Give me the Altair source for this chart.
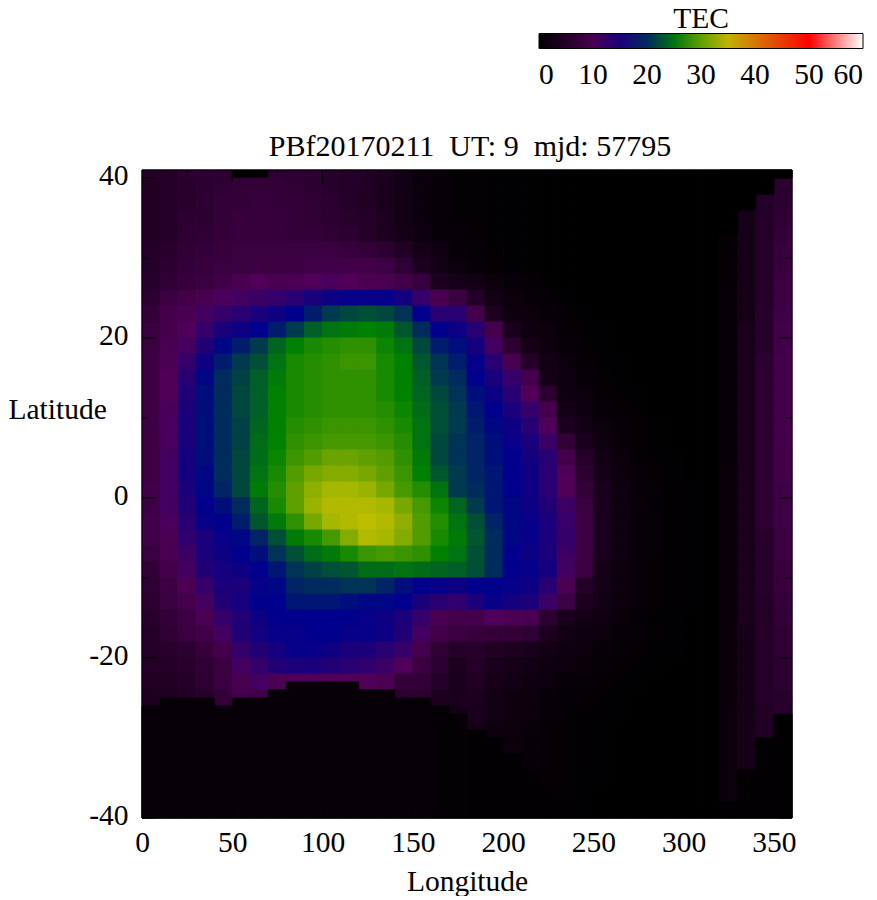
import altair as alt
import pandas as pd

FONT = "Liberation Serif"
FS = 29.5

lons = list(range(0, 360, 10))
lat_bands = [40, 38, 36, 34, 32, 30, 28, 26, 24, 22, 20, 18, 16, 14, 12, 10, 8, 6, 4, 2, 0,
             -2, -4, -6, -8, -10, -12, -14, -16, -18, -20, -22, -24, -26, -28, -30, -32, -34, -36, -38, -40]

tec_rows = [
[5,5,6,6,6,0,0,6,6,6,5.5,5,5,4,2.5,1.5,1,.5,.5,.3,.2,.2,.1,.1,0,0,0,0,0,0,0,0,0,0,0,0],
[4.5,5,5.5,6,6.5,7,7,7,6.5,6,5.5,5,4.5,3.5,2.5,1.5,1,.5,.5,.3,.2,.2,.1,.1,0,0,0,0,0,0,0,0,0,0,0,6],
[4.5,5,5.5,6,7,7,7.5,7,7,6.5,6,5,4.5,3.5,2.5,1.5,1,.7,.5,.3,.2,.2,.1,.1,0,0,0,0,0,0,0,0,0,0,5,6],
[4.5,5,6,6,7,7.5,7.5,7.5,7,6.5,6,5.5,5,4,2.5,1.5,1,.7,.5,.3,.2,.2,.1,.1,0,0,0,0,0,0,0,0,0,3,5,6.5],
[4.5,5,6,6.5,7,7.5,7.5,7.5,7,7,6.5,6,5,4,3,2,1,1,.5,.3,.2,.2,.1,.1,0,0,0,0,0,0,0,0,.5,3,5,7],
[5,5.5,6.5,7,7.5,8,8,8,8,8,8,7.5,7,6,4.5,3,2,1,.7,.4,.3,.2,.1,.1,0,0,0,0,0,0,0,0,.7,3,5,7.5],
[5,6,7,7.5,8,8,8,8.5,8.5,9,9,9,9,8.5,6.5,4,2.5,1.5,1,.5,.3,.2,.1,.1,0,0,0,0,0,0,0,0,.8,3,5,7.5],
[5.5,6.5,7.5,8,9,10,11,10,10.5,11,11.5,11,10.5,10,9,7.5,4,3,2.5,1.5,1,.5,.2,.1,0,0,0,0,0,0,0,0,.8,3,5,8],
[6,8,9,10,11.5,12,12.5,13,14,15,16,16.5,16.5,16.5,15.5,13,10,8,5,2.5,1.5,1,.5,.2,.1,0,0,0,0,0,0,0,1,3,5,8],
[7,9.5,10,12,13,14,15,16,17,19,21,22,22.5,22,20.5,17,14,14,9.5,4,2,1.5,1,.5,.2,.1,0,0,0,0,0,0,1,3,5.5,8.5],
[8,9.5,11,13,15,16,17,19,21,23.5,25,25.5,26,25.5,23,20,17,16,14,9.5,3.5,2,1.5,.8,.3,.2,.1,0,0,0,0,0,1,3.5,5.5,9],
[8,10,12,14.5,17.5,19,21,24,26,27,27.5,28,28,26.5,25,22,19,18,15.5,12,6,3,2,1,.5,.2,.1,0,0,0,0,0,1,3.5,5.5,9],
[8.5,10.5,13,16,19,21,22.5,25,27,27.5,28,28.5,28.5,27,26,23,20.5,19,16.5,14,10,5,2.5,1.5,.8,.3,.2,.1,0,0,0,0,1,3.5,6,9.5],
[8.5,11,14,17.5,20,21.5,23.5,25.5,27,27.5,28,28,28,27,26,23.5,21,20,17,15,13,9.5,3,2,1,.5,.2,.1,0,0,0,0,1,3.5,6,9.5],
[8.5,11,14.5,18,20,22,23.5,26,27,27.5,28,28,28,27,26,24,22,20.5,18,16,14,11,6,2,1.5,.8,.3,.2,.1,0,0,0,1,3.5,6,9.5],
[8.5,11.5,15,18,20,22,23.5,26,27,27.5,28,28,28,27.5,26.5,24.5,22.5,21,18.5,17,15,13,9.5,3,2,1,.5,.3,.1,0,0,0,1,3.5,6,9.5],
[8.5,11.5,15,18,20,21.5,24,26,27.5,28,28.5,28.5,28.5,28,27,25,22.5,21,19,17.5,16,14,11,4,2.5,1.5,1,.5,.2,.1,0,.1,1,3.5,6,9.5],
[8.5,11.5,15,18,20,21.5,24.5,26,28,28.5,29,29,29,28.5,27.5,25,22,20.5,19.5,18,16.5,15,12.5,7,3.5,2,1,.5,.3,.1,.1,.1,1,3.5,6,9.5],
[8.5,12,15.5,18,20,22,24.5,26.5,28.5,29.5,30.5,30.5,30,29.5,28,25.5,22,20.5,19.5,18,17,15.5,14,9.5,5,2.5,1.5,.7,.4,.2,.1,.1,1,3.5,6,9],
[8.5,12,15.5,17.5,20,22,25,27,29.5,31,31.5,31.5,31,30,28.5,26,23,21,19.5,18.5,17,16,14,11,6,3,1.5,1,.5,.3,.1,.1,1.2,3.5,6,9],
[9,12,15,17.5,19.5,22,25.5,27.5,30,32,33,33,32.5,31,29,27.5,25,21,20,18.5,17,16,14,11,7,3.5,2,1,.7,.3,.2,.1,1.2,3.5,6,8.5],
[8.5,12,14.5,17,18,20,24,27,30,32.5,33.5,33.5,33.5,33,31,29,26.5,24,21,18.5,17.5,16,14.5,12.5,8,3.5,2,1.2,.7,.3,.2,.1,1.2,3.5,6,8.5],
[9,11.5,14,16.5,17,19,23,25.5,28,31,33,33.5,34,33.5,32,29.5,27.5,25,22.5,19.5,17.5,16.5,15,13,8.5,3.5,2,1,.7,.3,.2,.1,1.2,3.5,6,8.5],
[9,10.5,13.5,15,16.5,17.5,19.5,22.5,25.5,27,29,31.5,33.5,33,31.5,29.5,27,25.5,23,20,17.5,16.5,15,13,8.5,3.5,2,1,.7,.3,.2,.1,1.2,3.5,5.5,8],
[8,10,12.5,15,16,17,18,20.5,22.5,24.5,25.5,27,28.5,29,28.5,28,26,25,22.5,20,17,16,15,12.5,8.5,3.5,2,1,.7,.3,.2,.1,1.2,3.5,5.5,8],
[7,9.5,12,14.5,15.5,16,17,18.5,20.5,21.5,22.5,23,24.5,24.5,25,24.5,24,23.5,22.5,20,17,16.5,15.5,12,8,3,1.5,1,.5,.3,.2,.1,1.2,3.5,5.5,7.5],
[6.5,8.5,10.5,13,15,15,16.5,17.5,19.5,20,20,20.5,20.5,19.5,18,17,16.5,16,17,17,16.5,16,14,10.5,5,3,1.5,1,.5,.3,.2,.1,1.2,3.5,5.5,7.5],
[6,8,9.5,12,14.5,15.5,17,17,18.5,18.5,18.5,18,17.5,17.5,17,15,14,13.5,15,16.5,15.5,15,12.5,8.5,4,2.5,1.5,1,.5,.3,.2,.1,1.2,3.5,5,7],
[5.5,7,8.5,10.5,13,14.5,16,17,17,17,17,17,16.5,16,15,13,10,9.5,9.5,11,10.5,10,6,3.5,2.5,2,1.2,.7,.4,.2,.1,.1,1.2,3.5,5,7],
[5,6.5,8,9,12,14.5,15.5,16.5,16.5,17,17,16.5,16.5,16,14.5,12,9,8,7.5,7,7,6.5,4,2.5,2,1.5,1,.7,.5,.2,.1,.1,1.2,3,5,6.5],
[5,5.5,6,7.5,9.5,13,14.5,15.5,16.5,16.5,16,15,15,14,13,9.5,6.5,5,5.5,4.5,4,3.5,2.5,2,1.5,1,.8,.5,.3,.2,.1,.1,1.2,3,5,6.5],
[5,5,5.5,6.5,8,12,13,14.5,15,15,14.5,14,13.5,12.5,11,8,6,4,5,3.5,3,2.5,2,1.5,1.2,.8,.5,.4,.2,.1,.1,.1,1.2,3,5,6],
[4.5,4.5,5,6,8,10,12,10.5,11,11,11,11,11,10.5,7,7,5,3.5,4.5,3,2.5,2,1.5,1,.8,.5,.4,.2,.1,.1,.1,.1,1.2,3,5,6],
[4,4,4.5,5.5,7,9.5,9,1,1,1,1,1,1,1,6,6,4,3.5,4,2.5,2,1.5,1,.7,.5,.4,.2,.1,.1,.1,.1,.1,1.2,3,5,5.5],
[1,1,1,1,1,1,1,1,1,1,1,1,1,1,1,1,.7,3,3.5,2.5,2,1.5,1,.7,.4,.3,.2,.1,.1,.1,.1,.1,1.5,3,4.5,5.5],
[1,1,1,1,1,1,1,1,1,1,1,1,1,1,1,1,.7,.7,3,2,1.5,1.2,.8,.6,.4,.2,.1,.1,.1,.1,.1,.1,1.5,3,4.5,.3],
[1,1,1,1,1,1,1,1,1,1,1,1,1,1,1,1,.7,.7,.3,.3,1.5,1,.8,.6,.3,.2,.1,.1,.1,.1,.1,.1,1.5,3,.3,.3],
[1,1,1,1,1,1,1,1,1,1,1,1,1,1,1,1,.7,.7,.3,.3,.3,1,.8,.5,.3,.2,.1,.1,.1,.1,.1,.1,1.5,3,.3,.3],
[1,1,1,1,1,1,1,1,1,1,1,1,1,1,1,1,.7,.7,.3,.3,.3,.3,.8,.5,.2,.2,.1,.1,.1,.1,.1,.1,1.5,.3,.3,.3],
[1,1,1,1,1,1,1,1,1,1,1,1,1,1,1,1,.7,.7,.3,.3,.3,.3,.3,.5,.2,.1,.1,.1,.1,.1,.1,.1,1.5,.3,.3,.3],
[1,1,1,1,1,1,1,1,1,1,1,1,1,1,1,1,.7,.7,.3,.3,.3,.3,.3,.3,.2,.1,.1,.1,.1,.1,.1,.1,.3,.3,.3,.3],
]

# Lowest / highest latitude with data, per longitude column (the sharp black edges).
floor_lat = [-26,-25,-25,-25,-26,-25,-25,-24,-23,-23,-23,-23,-24,-24,-25,-25,-26,-27,
             -29,-30,-32,-34,-36,-38,-39,-39,-39,-39,-39,-39,-39,-39,-38,-34,-30,-27]
floor_val = [1,1,1,1,1,1,1,1,1,1,1,1,1,1,1,1,.7,.7,.3,.3,.3,.3,.3,.3,.2,.1,.1,.1,.1,.1,.1,.1,.3,.3,.3,.3]
ceil_lons = [320, 330, 340, 350]
ceil_lat = [33, 36, 38, 40]

palette_stops = [0, 11, 17, 26, 34, 50, 60]
stroke_stops = [0, 11, 17, 26, 34, 50, 60.001]
palette_colors = ["#000000", "#500058", "#00008c", "#008200", "#bebe00", "#ff0000", "#ffffff"]

legend_values = [0, 10, 20, 30, 40, 50, 60]
x_labels = [0, 50, 100, 150, 200, 250, 300, 350]
x_major = [50, 100, 150, 200, 250, 300, 350]
x_minor = [25, 75, 125, 175, 225, 275, 325]
y_major = [40, 20, 0, -20, -40]
y_minor = [30, 10, -10, -30]

cells = pd.DataFrame(
    [{"lon": lo, "lon2": lo + 10, "lat": la, "lat2": la + (1 if la == 40 else 2), "tec": v}
     for la, row in zip(lat_bands, tec_rows) for lo, v in zip(lons, row)])
floors = pd.DataFrame(
    [{"lon": lo, "lon2": lo + 10, "lat": -40, "lat2": f, "tec": v}
     for lo, f, v in zip(lons, floor_lat, floor_val)])
ceils = pd.DataFrame(
    [{"lon": lo, "lon2": lo + 10, "lat": c, "lat2": 41, "tec": 0}
     for lo, c in zip(ceil_lons, ceil_lat)])

xs = alt.Scale(domain=[0, 360], nice=False, zero=False)
ys = alt.Scale(domain=[-40, 41], nice=False, zero=False)
cs = alt.Scale(domain=palette_stops, range=palette_colors, interpolate="rgb", clamp=True)
ss = alt.Scale(domain=stroke_stops, range=palette_colors, interpolate="rgb", clamp=True)

legend = alt.Legend(
    type="gradient", orient="none", legendX=397, legendY=-165, direction="horizontal",
    gradientLength=324, gradientThickness=15, gradientStrokeColor="black", gradientStrokeWidth=1,
    title="TEC", titleFont=FONT, titleFontSize=FS, titleFontWeight="normal", titleColor="black",
    titleAnchor="middle", titlePadding=-1, labelFont=FONT, labelFontSize=FS, labelColor="black",
    values=legend_values, labelOverlap=False, labelOffset=12, labelAlign="center")

xax = alt.Axis(values=x_labels, grid=False, ticks=False, domain=False,
               title="Longitude", labelFont=FONT, labelFontSize=FS, labelColor="black", labelPadding=10,
               titleFont=FONT, titleFontSize=FS, titleFontWeight="normal", titleColor="black",
               titlePadding=11, labelAngle=0, labelFlush=False, labelOverlap=False)
yax = alt.Axis(values=y_major, grid=False, ticks=False, domain=False,
               title="Latitude", labelFont=FONT, labelFontSize=FS, labelColor="black", labelPadding=14,
               labelExpr="'' + datum.value", labelFlush=False, labelOverlap=False, labelOffset=-3,
               titleFont=FONT, titleFontSize=FS, titleFontWeight="normal", titleColor="black",
               titleAngle=0, titleAlign="left", titleBaseline="middle", titleX=-134, titleY=239)
xf = alt.X("lon:Q", scale=xs, axis=xax)
yf = alt.Y("lat:Q", scale=ys, axis=yax)


def rects(df, with_legend=False):
    return alt.Chart(df).mark_rect(strokeWidth=1).encode(
        x=xf,
        x2="lon2:Q",
        y=yf,
        y2="lat2:Q",
        fill=alt.Fill("tec:Q", scale=cs, legend=legend if with_legend else None),
        stroke=alt.Stroke("tec:Q", scale=ss, legend=None),
    )


def ytick(vals, x0, x1):
    return alt.Chart(pd.DataFrame({"lat": vals})).mark_rule(color="black", strokeWidth=1).encode(
        y=yf, x=alt.value(x0), x2=alt.value(x1))


def xtick(vals, y0, y1):
    return alt.Chart(pd.DataFrame({"lon": vals})).mark_rule(color="black", strokeWidth=1).encode(
        x=xf, y=alt.value(y0), y2=alt.value(y1))


frame = alt.Chart(pd.DataFrame({"a": [0]})).mark_rect(fillOpacity=0, stroke="black", strokeWidth=1).encode(
    x=alt.value(0), x2=alt.value(650), y=alt.value(0), y2=alt.value(648))

chart = alt.layer(
    rects(cells, True), rects(floors), rects(ceils),
    ytick(y_major, 0, 13), ytick(y_minor, 0, 6), ytick(y_major, 637, 650), ytick(y_minor, 644, 650),
    xtick(x_major, 635, 648), xtick(x_minor, 642, 648), xtick(x_major, 0, 13), xtick(x_minor, 0, 6),
    frame,
).properties(
    width=650, height=648,
    title=alt.TitleParams("PBf20170211\u00a0\u00a0UT: 9\u00a0\u00a0mjd: 57795", font=FONT, fontSize=30,
                          fontWeight="normal", color="black", anchor="middle", frame="group", offset=-157, dx=3),
    padding={"left": 134, "top": 162, "right": 77, "bottom": 78},
    autosize=alt.AutoSizeParams(type="none"),
).configure_view(stroke=None).resolve_scale(fill="shared", stroke="shared")

chart.save("out.html", embed_options={"renderer": "svg", "actions": False})
